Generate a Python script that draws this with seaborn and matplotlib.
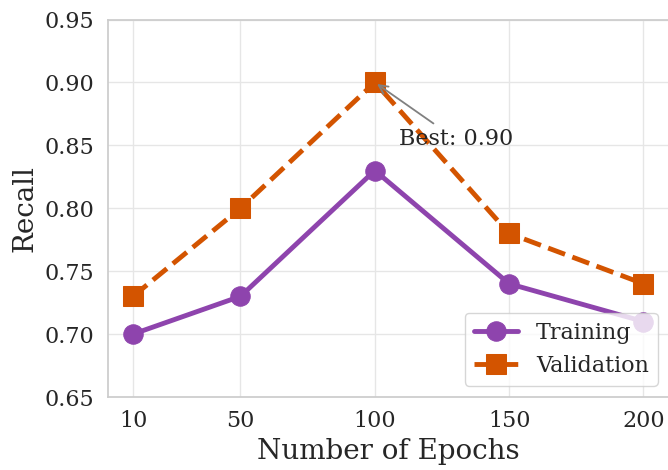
import matplotlib
matplotlib.use("Agg")
import matplotlib.pyplot as plt
import seaborn as sns
import pandas as pd

epochs = [10, 50, 100, 150, 200]
train_recall = [0.70, 0.73, 0.83, 0.74, 0.71]
val_recall = [0.73, 0.80, 0.90, 0.78, 0.74]
series_names = ["Training", "Validation"]
colors = ["#8e44ad", "#d35400"]

sns.set_theme(style="whitegrid")
plt.rcParams["font.family"] = ["DejaVu Serif"]
plt.rcParams["axes.edgecolor"] = "#cccccc"
plt.rcParams["grid.color"] = "#e6e6e6"

fig = plt.figure(figsize=(6.68, 4.70), dpi=100)
ax = fig.add_axes([107.5 / 668, 1 - 397 / 470, (669 - 107.5) / 668, (397 - 19.5) / 470])

df_train = pd.DataFrame({"Epochs": epochs, "Recall": train_recall})
df_val = pd.DataFrame({"Epochs": epochs, "Recall": val_recall})

sns.lineplot(data=df_train, x="Epochs", y="Recall", ax=ax, color=colors[0],
             marker="o", markersize=14, linewidth=3.5, label=series_names[0],
             markeredgecolor=colors[0])
sns.lineplot(data=df_val, x="Epochs", y="Recall", ax=ax, color=colors[1],
             marker="s", markersize=14, linewidth=3.5, linestyle="--",
             label=series_names[1], markeredgecolor=colors[1])

ax.set_ylim(0.65, 0.95)
ax.set_xticks(epochs)
ax.set_xticklabels([str(e) for e in epochs])
ax.set_yticks([0.65, 0.70, 0.75, 0.80, 0.85, 0.90, 0.95])
ax.set_yticklabels(["0.65", "0.70", "0.75", "0.80", "0.85", "0.90", "0.95"])
ax.tick_params(labelsize=16, colors="#262626")
ax.set_xlabel("Number of Epochs", fontsize=20, color="#262626")
ax.set_ylabel("Recall", fontsize=20, color="#262626")
for sp in ax.spines.values():
    sp.set_linewidth(1.25)

best_idx = val_recall.index(max(val_recall))
ax.annotate(f"Best: {val_recall[best_idx]:.2f}",
            xy=(epochs[best_idx], val_recall[best_idx]),
            xytext=(epochs[best_idx] + 9, val_recall[best_idx] - 0.05),
            fontsize=16, color="#262626",
            arrowprops=dict(arrowstyle="->", color="gray", lw=1.3))

leg = ax.legend(loc="lower right", fontsize=16, frameon=True, framealpha=0.8,
                edgecolor="#cccccc")

fig.savefig("out.png", dpi=100)
